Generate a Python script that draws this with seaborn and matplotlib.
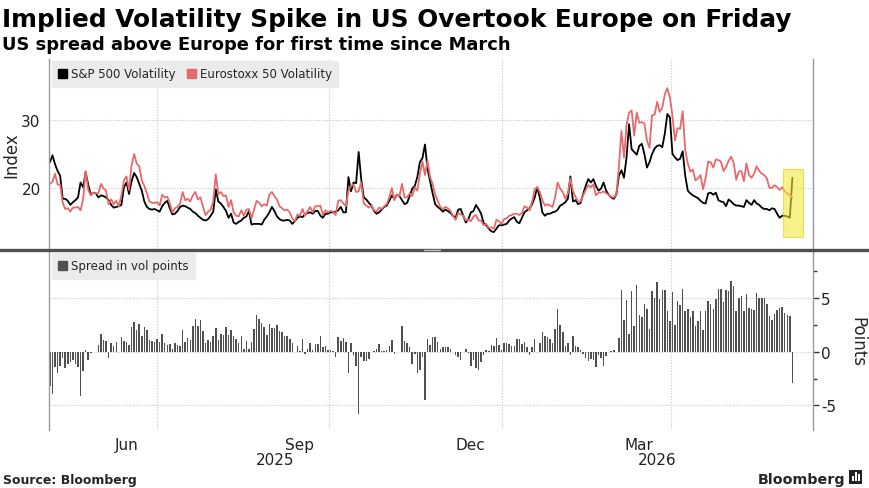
import numpy as np
import pandas as pd
import matplotlib as mpl
mpl.use('Agg')
from matplotlib import pyplot as plt
import matplotlib.dates as mdates
from matplotlib.patches import Patch, Rectangle
from matplotlib.lines import Line2D
from matplotlib.ticker import FixedLocator
import seaborn as sns

# daily implied vol (May 2025 -> Jun 5 2026)
spx_vol = [
    23.8, 24.8, 23.5, 22.5, 21.8, 18.4, 18.4, 18.1, 17.5, 17.9, 18.2, 18.6, 20.8, 20.1, 22.3, 20.5, 19.0, 19.3, 19.2, 18.6,
    18.9, 18.8, 18.6, 18.2, 17.5, 17.1, 17.2, 17.3, 17.5, 20.1, 20.8, 19.1, 21.0, 22.2, 21.6, 20.6, 19.6, 18.0, 17.2, 16.9, 16.8,
    16.9, 16.7, 16.5, 17.3, 17.8, 18.1, 17.0, 16.1, 16.2, 16.6, 17.2, 17.4, 17.3, 17.1, 16.9, 16.5, 16.3, 15.9, 15.6, 15.3,
    15.2, 15.4, 15.9, 16.5, 19.8, 18.0, 17.7, 17.2, 16.6, 15.6, 16.2, 14.9, 14.7,
    15.0, 15.2, 15.6, 15.8, 16.6, 14.6, 14.7, 14.7, 14.7, 14.6,
    15.3, 15.8, 16.4, 17.2, 16.6, 15.8, 15.4, 15.2, 15.2, 15.3,
    15.2, 14.7, 15.1, 15.6, 15.8, 15.7, 16.1, 16.3, 16.4, 16.2,
    16.6, 16.6, 15.9, 15.6, 16.2, 16.2, 16.4, 16.4, 16.5, 16.7,
    17.2, 16.4, 16.4, 21.6, 19.5, 20.8, 20.7, 25.3, 21.3, 18.6,
    18.3, 17.8, 17.4, 16.6, 16.2, 16.4, 16.8, 17.2, 17.4, 18.1,
    18.9, 18.4, 19.0, 18.8, 18.2, 17.6, 17.8, 18.8, 19.9, 20.3,
    21.6, 23.8, 24.4, 26.4, 22.8, 21.0, 19.2, 17.6,
    17.2, 16.9, 16.5, 16.8, 16.6, 16.3, 15.9, 15.6, 16.8, 16.9,
    15.9, 14.9, 15.4, 16.4, 16.6, 17.5, 16.9, 16.2, 14.8, 14.5,
    14.0, 13.6, 13.5, 14.0, 14.5, 14.5, 14.6, 14.7, 15.2, 15.5,
    15.7, 15.0, 14.8, 15.6, 16.4, 16.7, 17.0, 17.6, 18.6, 20.1,
    18.6, 16.4, 15.9, 16.2, 16.2, 16.4, 16.5, 16.8, 17.4, 17.6,
    17.9, 18.4, 21.7, 18.0, 18.2, 17.6, 17.8, 19.1, 20.3, 21.3,
    20.8, 21.3, 20.3, 19.6, 19.9, 20.8, 19.6, 19.0, 18.6, 18.4,
    19.0,
    21.8, 22.6, 21.5, 24.5, 29.4, 25.7, 25.3, 24.9, 26.2, 26.5,
    25.0, 23.0, 23.8, 25.0, 25.8, 26.2, 26.3, 26.0, 28.0, 30.9,
    30.4, 25.0, 24.5, 24.1, 24.3, 25.4, 21.8, 19.6, 19.2, 18.9,
    18.7, 18.5, 18.1, 17.8, 17.7, 19.2, 19.3, 19.0, 19.3, 18.2,
    18.0, 17.9, 17.3, 18.3, 18.0, 17.6, 17.4, 17.4, 17.3, 17.2,
    18.2, 17.8, 17.5, 18.2, 17.7, 17.5, 17.1, 16.9, 16.9, 16.7,
    17.0, 16.9, 16.2, 15.6, 15.9, 15.9, 15.8, 15.6, 21.5,
]

euro_vol = [
    20.6, 20.9, 22.1, 20.5, 20.5, 17.8, 16.9, 17.0, 16.5, 17.1, 17.1, 17.2, 16.7, 18.3, 22.5, 19.7, 18.9, 19.3, 19.2, 19.2,
    20.6, 19.9, 19.6, 17.6, 18.3, 17.6, 18.1, 17.3, 18.9, 21.1, 21.7, 19.7, 23.3, 25.0, 23.6, 23.2, 21.1, 20.3, 19.2, 18.0, 17.8,
    17.8, 17.9, 17.4, 19.0, 18.6, 18.7, 17.7, 16.4, 17.0, 17.2, 17.7, 19.4, 18.2, 18.4, 18.0, 18.9, 19.4, 18.3, 18.6, 17.2,
    16.0, 16.5, 16.8, 18.0, 22.0, 19.1, 19.4, 18.8, 18.9, 17.2, 18.2, 16.4, 15.9,
    15.8, 16.7, 15.9, 16.8, 16.9, 15.5, 16.8, 18.1, 17.8, 17.3,
    17.6, 17.4, 19.0, 19.4, 18.8, 18.3, 17.3, 17.0, 16.7, 16.8,
    16.4, 15.5, 15.1, 16.1, 15.9, 16.9, 15.9, 16.6, 17.2, 16.4,
    17.3, 17.3, 17.4, 16.0, 16.7, 16.4, 16.6, 16.5, 16.0, 18.1,
    18.2, 17.7, 17.3, 19.6, 20.3, 20.5, 19.4, 19.5, 20.8, 17.7,
    17.4, 17.1, 17.4, 16.7, 16.5, 17.1, 16.9, 17.3, 17.6, 18.6,
    20.0, 18.2, 19.0, 18.8, 20.6, 18.6, 18.6, 19.2, 18.8, 20.1,
    19.6, 22.1, 23.9, 21.9, 24.0, 21.6, 20.6, 19.0,
    18.1, 17.2, 16.9, 17.2, 17.0, 16.6, 15.9, 15.3, 16.3, 16.1,
    15.9, 15.2, 15.3, 15.1, 15.8, 16.0, 15.2, 15.2, 14.5, 14.7,
    14.1, 14.2, 14.0, 15.3, 15.1, 14.7, 15.4, 15.5, 15.9, 16.0,
    16.2, 16.2, 16.0, 16.3, 17.3, 17.1, 16.7, 18.0, 19.8, 20.1,
    19.4, 18.2, 17.4, 17.6, 17.4, 17.2, 18.6, 20.8, 19.9, 19.4,
    18.4, 19.2, 21.4, 19.5, 18.7, 18.0, 18.0, 18.9, 19.7, 20.4,
    20.1, 20.5, 18.9, 19.3, 19.3, 19.5, 19.2, 19.0, 18.7, 18.6,
    19.0,
    23.1, 28.4, 24.5, 29.3, 31.1, 31.4, 27.7, 31.1, 29.6, 29.7,
    29.5, 27.0, 25.9, 30.7, 30.8, 32.7, 31.2, 31.8, 33.8, 34.7,
    33.3, 30.6, 27.0, 28.8, 28.7, 31.3, 25.6, 23.6, 22.4, 22.7,
    21.1, 21.4, 21.9, 19.8, 21.5, 23.9, 23.8, 23.0, 24.2, 24.1,
    23.9, 22.5, 23.1, 24.0, 24.6, 23.7, 21.2, 22.4, 22.5, 21.0,
    23.6, 21.9, 21.5, 22.1, 23.2, 22.5, 22.1, 21.9, 21.4, 20.0,
    20.0, 20.4, 20.1, 19.7, 20.1, 19.5, 19.2, 18.9, 18.6,
]

first_day = '2025-05-05'
last_day = '2026-06-05'
quarter_starts = ['2025-07-01', '2025-10-01', '2026-01-01', '2026-04-01']
month_labels = ['Jun', 'Sep', 'Dec', 'Mar']
month_mids = ['2025-06-15', '2025-09-15', '2025-12-15', '2026-03-15']

RED = '#e8696b'
BAR = '#505050'
GRID = '#c8c8c8'
SPINE = '#9a9a9a'

df = pd.DataFrame({
    'date': pd.date_range(first_day, last_day, periods=len(spx_vol)),
    'spx': spx_vol,
    'euro': euro_vol,
})
df['spread'] = df['euro'] - df['spx']

sns.set_style('white')
plt.rcParams['font.family'] = ['DejaVu Sans']
plt.rcParams['axes.unicode_minus'] = False

W, H = 870, 489
fig = plt.figure(figsize=(W / 100, H / 100), dpi=100)
ax1 = fig.add_axes([49 / W, 1 - 250 / H, 764 / W, 190 / H])
ax2 = fig.add_axes([49 / W, 1 - 431 / H, 764 / W, 179 / H], sharex=ax1)

# top panel: the two vol lines
sns.lineplot(data=df, x='date', y='spx', ax=ax1, color='black', lw=1.3)
sns.lineplot(data=df, x='date', y='euro', ax=ax1, color=RED, lw=1.3)

# bottom panel: spread bars
ax2.bar(df['date'], df['spread'], width=0.8, color=BAR, lw=0)

xmin = pd.Timestamp('2025-05-04 12:00')
xmax = pd.Timestamp('2026-06-16')
ax1.set_xlim(xmin, xmax)

# highlight box round the last few days
x0 = mdates.date2num(pd.Timestamp('2026-05-31'))
x1 = mdates.date2num(pd.Timestamp('2026-06-10 16:00'))
ax1.add_patch(Rectangle((x0, 12.8), x1 - x0, 10.0, facecolor='#f2e93c', alpha=0.6,
                        edgecolor='#d6cc1c', lw=0.8, zorder=5))

qpos = mdates.date2num(pd.to_datetime(quarter_starts))
mpos = mdates.date2num(pd.to_datetime(month_mids))
ax1.xaxis.set_major_locator(FixedLocator(qpos))
ax1.xaxis.set_minor_locator(FixedLocator(mpos))
ax2.set_xticks(mpos, month_labels, minor=True)
ax2.set_xticklabels([], minor=False)

for ax in (ax1, ax2):
    ax.set_xlabel('')
    ax.set_ylabel('')
    ax.grid(axis='x', which='major', color=GRID, lw=0.8, ls=(0, (1, 1.5)))
    ax.grid(axis='y', which='major', color=GRID, lw=0.8, ls=(0, (1, 1.5)))
    ax.tick_params(axis='x', which='both', length=0)
    for side in ('top', 'bottom'):
        ax.spines[side].set_visible(False)
    for side in ('left', 'right'):
        ax.spines[side].set_visible(True)
        ax.spines[side].set_color(SPINE)
        ax.spines[side].set_linewidth(1.0)

ax1.tick_params(axis='x', which='both', labelbottom=False)
ax2.tick_params(axis='x', which='minor', labelsize=11, pad=5, colors='#222222')

ax1.set_ylim(11, 39)
ax1.yaxis.set_major_locator(FixedLocator([20, 30]))
ax1.yaxis.set_minor_locator(FixedLocator([15, 25, 35]))
ax1.tick_params(axis='y', which='major', length=4, width=1, color='#333333',
                labelsize=11, pad=2, labelcolor='#222222')
ax1.tick_params(axis='y', which='minor', length=3, width=1, color='#333333')

ax2.set_ylim(-7.3, 9.4)
ax2.yaxis.tick_right()
ax2.yaxis.set_major_locator(FixedLocator([-5, 0, 5]))
ax2.yaxis.set_minor_locator(FixedLocator([-2.5, 2.5, 7.5]))
ax2.tick_params(axis='y', which='major', length=4, width=1, color='#333333',
                labelsize=11, pad=2, labelcolor='#222222')
ax2.tick_params(axis='y', which='minor', length=3, width=1, color='#333333')

# year labels centred on the visible part of each year
jan1 = mdates.date2num(pd.Timestamp('2026-01-01'))
lo, hi = ax2.get_xlim()
trans = mpl.transforms.blended_transform_factory(ax2.transData, ax2.transAxes)
ax2.text((lo + jan1) / 2, -0.165, '2025', transform=trans, ha='center', va='center',
         fontsize=11, color='#222222')
ax2.text((jan1 + hi) / 2, -0.165, '2026', transform=trans, ha='center', va='center',
         fontsize=11, color='#222222')

# legends
leg1 = ax1.legend(handles=[Patch(color='black'), Patch(color=RED)],
                  labels=['S&P 500 Volatility', 'Eurostoxx 50 Volatility'],
                  loc='upper left', bbox_to_anchor=(3 / 764, 1 - 2 / 190), ncol=2,
                  frameon=True, fancybox=False, facecolor='#ebebeb', edgecolor='#ebebeb',
                  framealpha=1, fontsize=8.5, handlelength=0.75, handleheight=0.75,
                  handletextpad=0.3, columnspacing=1.0, borderpad=0.55, borderaxespad=0)
leg2 = ax2.legend(handles=[Patch(color=BAR)], labels=['Spread in vol points'],
                  loc='upper left', bbox_to_anchor=(3 / 764, 1 - 2 / 179),
                  frameon=True, fancybox=False, facecolor='#ebebeb', edgecolor='#ebebeb',
                  framealpha=1, fontsize=8.5, handlelength=0.75, handleheight=0.75,
                  handletextpad=0.3, borderpad=0.55, borderaxespad=0)

# axis titles
fig.text(11 / W, 1 - 155 / H, 'Index', rotation=90, ha='center', va='center', fontsize=12)
fig.text(857 / W, 1 - 342 / H, 'Points', rotation=270, ha='center', va='center', fontsize=12)

# divider between panels
ydiv = 1 - 251 / H
fig.add_artist(Line2D([0, 1], [ydiv, ydiv], transform=fig.transFigure, color='#4f4f4f', lw=2.4))
fig.add_artist(Line2D([424 / W, 440 / W], [ydiv, ydiv], transform=fig.transFigure,
                      color='#c0c0c0', lw=1.0))

# titles and footer
fig.text(2 / W, 1 - 27 / H, 'Implied Volatility Spike in US Overtook Europe on Friday',
         fontsize=17.8, fontweight='bold', va='baseline', color='black')
fig.text(2 / W, 1 - 50 / H, 'US spread above Europe for first time since March',
         fontsize=12.9, fontweight='bold', va='baseline', color='black')
fig.text(3 / W, 1 - 484 / H, 'Source: Bloomberg', fontsize=9, fontweight='bold', va='baseline')
fig.text(845 / W, 1 - 484 / H, 'Bloomberg', fontsize=10.3, fontweight='bold', va='baseline', ha='right')
fig.add_artist(Rectangle((849 / W, 1 - 485 / H), 13 / W, 14 / H, transform=fig.transFigure,
                         facecolor='#222222', edgecolor='none'))
for bx, bh in ((852, 5), (855, 9), (858, 7)):
    fig.add_artist(Rectangle((bx / W, 1 - 482 / H), 1.6 / W, bh / H, transform=fig.transFigure,
                             facecolor='white', edgecolor='none'))

fig.savefig('out.png', dpi=100)
